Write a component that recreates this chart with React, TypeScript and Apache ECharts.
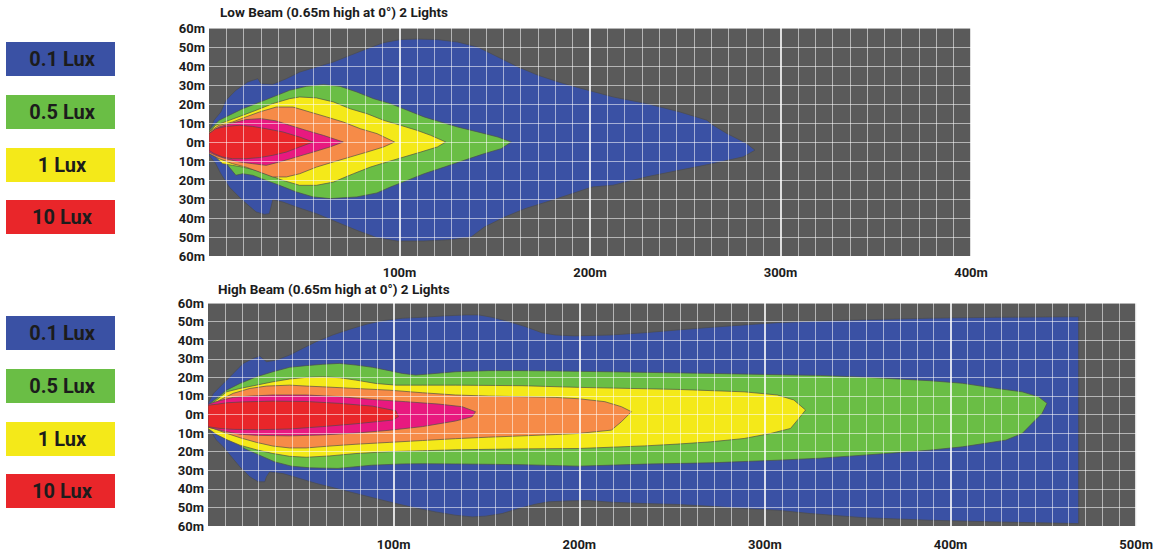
import React, { useEffect, useRef } from "react";
import * as echarts from "echarts";

type P = [number, number];

// ---------- Data (metres: x = distance, y = lateral offset, + = up) ----------
const LOW_TITLE = "Low Beam (0.65m high at 0°) 2 Lights";
const HIGH_TITLE = "High Beam (0.65m high at 0°) 2 Lights";
const LOW_MAX_X = 400;
const HIGH_MAX_X = 500;
const Y_MIN = -60;
const Y_MAX = 60;

const LEGEND_LABELS = ["0.1 Lux", "0.5 Lux", "1 Lux", "10 Lux"];

const LOW_BLUE: P[] = [
  [0, 5.3], [2.6, 11.4], [6.2, 15.8], [8.8, 21.9], [14.1, 27.2], [20.3, 31.6], [25.6, 33.3], [27.3, 30.7],
  [33.5, 30.4], [40.6, 33.3], [47.6, 36.8], [56.4, 39.5], [65.3, 42.1], [74.1, 45.6], [82.9, 49.1],
  [91.7, 52.3], [100.5, 53.9], [109.3, 54.2], [119.9, 53.9], [130.5, 52.6], [141.1, 50], [151.7, 44.7],
  [162.3, 39.5], [172.8, 35.1], [183.4, 31.6], [194, 28.6], [212.2, 23.7], [229.8, 20.2], [247.2, 15.8],
  [261.3, 11.5], [264.7, 8.8], [271.8, 4.5], [282.3, -0.8], [286.6, -4.3], [280.5, -7.8], [264.7, -11.3],
  [247.2, -14.8], [229.8, -18.3], [212.2, -22.7], [201, -23.7], [190.5, -27.2], [179.9, -30.7],
  [165.8, -35.1], [155.2, -39.5], [144.6, -44.7], [137.6, -50], [127, -51.4], [112.9, -52.1], [98.8, -52.1],
  [88.2, -50.4], [77.6, -46.5], [67, -42.1], [56.4, -37.7], [45.9, -34.2], [38.8, -31.6], [33.5, -30.4],
  [31.7, -37.7], [29.1, -38.1], [24.7, -36.8], [17.6, -30.7], [10.6, -23.7], [6.2, -16.7], [3.5, -11.4], [0, -7],
];
const LOW_GREEN: P[] = [
  [0, 6.1], [5.3, 11.4], [12.3, 14.9], [17.6, 17.5], [24.7, 20.2], [33.5, 23.7], [42.3, 27.2], [51.1, 29.3],
  [60, 30.2], [68.8, 29.3], [77.6, 26.3], [86.4, 22.8], [95.2, 20.2], [104.1, 16.7], [112.9, 13.2],
  [121.7, 10.5], [130.5, 7.9], [141.1, 5.3], [151.7, 2.6], [158.7, 0], [153.4, -3.5], [144.6, -6.1],
  [134, -9.6], [123.5, -13.2], [112.9, -16.7], [104.1, -20.2], [95.2, -23.7], [88.2, -26.8], [77.6, -28.9],
  [63.5, -29.8], [54.7, -28.9], [45.9, -26.3], [37, -22.8], [30, -20.2], [22.9, -17.5], [17.6, -16.7],
  [14.1, -17.5], [10.6, -13.2], [7.1, -8.8], [3.5, -6.1], [0, -5.3],
];
const LOW_YELLOW: P[] = [
  [0, 5.3], [3.5, 8.8], [10.6, 11.4], [17.6, 14], [24.7, 16.7], [33.5, 20.2], [42.3, 22.8], [47.6, 23.7],
  [56.4, 23.2], [65.3, 21.1], [74.1, 17.5], [82.9, 14.9], [91.7, 11.4], [100.5, 8.8], [109.3, 6.1],
  [116.4, 3.5], [124.3, 0], [119.9, -2.6], [111.1, -5.3], [102.3, -7.9], [93.5, -10.5], [84.7, -13.2],
  [75.8, -16.7], [65.3, -21.1], [56.4, -22.8], [47.6, -22.8], [38.8, -20.2], [31.7, -17.5], [24.7, -14.9],
  [17.6, -13.2], [12.3, -12.3], [7.1, -11.4], [3.5, -7.9], [0, -6.1],
];
const LOW_ORANGE: P[] = [
  [0, 5.3], [5.3, 8.8], [12.3, 10.5], [19.4, 13.2], [26.5, 15.8], [35.3, 18.4], [44.1, 18.4], [52.9, 15.8],
  [61.7, 13.2], [70.5, 10.5], [79.4, 7], [88.2, 4.4], [97.4, 0], [91.7, -2.6], [82.9, -5.3], [74.1, -7.9],
  [65.3, -10.5], [56.4, -13.2], [47.6, -16.7], [40.6, -18.4], [33.5, -18.4], [26.5, -15.8], [19.4, -13.2],
  [12.3, -11.4], [5.3, -8.8], [0, -6.1],
];
const LOW_PINK: P[] = [
  [0, 4.4], [5.3, 7.9], [12.3, 10], [19.4, 11.8], [27.3, 12.3], [35.3, 11.1], [42.3, 8.8], [51.1, 6.1],
  [60, 3.5], [70.5, 0], [63.5, -2.6], [54.7, -5.3], [45.9, -7.9], [37, -10.5], [30, -12.3], [22.9, -11.4],
  [15.9, -10.5], [8.8, -8.8], [3.5, -7], [0, -5.3],
];
const LOW_RED: P[] = [
  [0, 4.4], [3.5, 7], [8.8, 8.2], [15.9, 8.8], [22.9, 8.2], [30, 7], [38.8, 5.3], [47.6, 2.6], [54.7, 0],
  [47.6, -2.6], [40.6, -5.3], [33.5, -7], [26.5, -8.2], [19.4, -8.8], [12.3, -8.8], [7.1, -7.9], [2.6, -6.1],
  [0, -4.4],
];

const HIGH_BLUE: P[] = [
  [0, 6], [2.9, 11.3], [8.2, 16.7], [13.6, 22.1], [18.9, 27.5], [24.3, 30.2], [27.9, 31.5], [31.5, 28.4],
  [36.8, 29.3], [44, 32], [51.1, 35.6], [58.3, 39.2], [67.2, 42.8], [76.1, 45.8], [85.1, 48.5], [94, 50.5],
  [104.7, 51.8], [115.5, 52.3], [126.2, 53], [138.7, 53.6], [145.8, 53.6], [153, 52.3], [161.9, 50],
  [170.9, 47.3], [179.8, 44], [187, 42.8], [197.7, 42.3], [217.3, 42.8], [235.2, 44], [253.1, 45.5],
  [270.9, 46.9], [288.8, 48.2], [306.7, 49.4], [324.6, 50.2], [355, 51], [388.6, 51.8], [424.3, 52.3],
  [469, 52.6], [469, -58.7], [424.3, -57.8], [388.6, -56.9], [352.8, -55.5], [324.6, -53.3], [306.7, -51.5],
  [288.8, -50.6], [270.9, -49.4], [253.1, -48.4], [235.2, -47.9], [217.3, -47.2], [204.8, -46.3],
  [194.1, -46.5], [183.4, -47], [176.2, -48.3], [167.3, -50.6], [158.4, -53.3], [149.4, -54.7],
  [142.3, -55.1], [133.3, -54.2], [122.6, -52.4], [111.9, -50.3], [101.2, -47.9], [90.4, -45.2],
  [79.7, -42.5], [69, -39.8], [58.3, -37.1], [49.3, -34.4], [40.4, -31.8], [33.2, -30.9], [31.5, -33.5],
  [30.6, -36.2], [27, -36.2], [22.5, -33.5], [17.2, -28.2], [11.8, -21.8], [8.2, -17.4], [4.6, -13.8], [0, -6.6],
];
const HIGH_GREEN: P[] = [
  [0, 5.1], [4.6, 8.7], [10, 13.1], [17.2, 16.7], [26.1, 20.3], [35, 23], [44, 25.4], [52.9, 26.3],
  [61.8, 27], [70.8, 27.5], [79.7, 26.6], [88.6, 25.4], [97.6, 23.6], [104.7, 22.1], [111.9, 21.2],
  [119, 21.8], [133.3, 23], [151.2, 23.6], [169.1, 23.6], [187, 23.4], [215.6, 23], [270.9, 22.1],
  [330, 21], [355, 20], [388.6, 18.2], [406.4, 16.8], [424.3, 14.1], [438.6, 12.2], [447.5, 9.5], [452, 6],
  [449.3, 0.6], [445.7, -3], [438.6, -10.2], [429.7, -13.8], [406.4, -17.4], [388.6, -19.2], [370.7, -20.6],
  [352.8, -21.9], [330, -23.5], [306.7, -24.6], [270.9, -26], [235.2, -26.7], [199.5, -27.8], [169.1, -27],
  [133.3, -26.6], [115.5, -26.5], [104.7, -26.6], [88, -27.3], [70, -29], [55, -28.7], [45, -27.8],
  [36, -25.5], [28, -22], [20, -18.5], [15.4, -15.5], [10, -13], [4.6, -10.5], [0, -6.8],
];
const HIGH_YELLOW: P[] = [
  [0, 4.2], [4.6, 7.8], [10, 12.2], [17.2, 14], [26.1, 15.8], [35, 17.6], [44, 19.1], [52.9, 20],
  [61.8, 20.3], [70.8, 19.8], [79.7, 18.5], [90.4, 16.7], [101.2, 15.8], [115.5, 15.8], [133.3, 15.8],
  [169.1, 15.5], [199.5, 14.6], [253.1, 13.5], [288.8, 12.2], [306.7, 10.5], [315.6, 7.8], [321.9, 2.4],
  [318.3, -2.1], [313.8, -7.5], [303.1, -10.2], [288.8, -12.9], [270.9, -14.7], [253.1, -15.9],
  [235.2, -16.9], [199.5, -18.3], [169.1, -18.5], [133.3, -19], [115.5, -19.5], [97.6, -20], [79.7, -21],
  [65.4, -22.3], [52.9, -23], [44, -22.5], [35, -21], [26.1, -19], [17.2, -16.5], [10, -13.5], [4.6, -10.8],
  [0, -7.5],
];
const HIGH_ORANGE: P[] = [
  [0, 3.3], [6.4, 7.8], [13.6, 11.4], [22.5, 14], [31.5, 15.3], [44, 15.8], [52.9, 15.3], [61.8, 14.9],
  [79.7, 14], [97.6, 13.1], [115.5, 11.7], [133.3, 10.5], [151.2, 9.9], [169.1, 9.6], [187, 9.2],
  [199.5, 8.5], [213.8, 6.9], [222.7, 4.2], [228.1, 1.5], [222.7, -3.9], [217.3, -8.4], [208.4, -9.3],
  [199.5, -10.2], [187, -10.8], [169.1, -11.5], [151.2, -12.2], [133.3, -13], [115.5, -14], [97.6, -15],
  [79.7, -16], [65.4, -17], [52.9, -18], [44, -18], [35, -17], [26.1, -15], [17.2, -12.5], [8.2, -9.5],
  [2.9, -7.5], [0, -6.8],
];
const HIGH_PINK: P[] = [
  [0, 5.5], [6.4, 7.5], [13.6, 9.2], [22.5, 9.9], [35, 10.5], [52.9, 10.5], [70.8, 9.6], [88.6, 8.1],
  [106.5, 6.9], [124.4, 5.6], [136.9, 4.2], [144.1, 1.5], [142.3, -1.2], [133.3, -3.5], [115.5, -6.5],
  [97.6, -8.5], [79.7, -10], [61.8, -11], [44, -11.5], [26.1, -11.2], [17.2, -10.6], [10, -9.3], [4.6, -8],
  [0, -6.8],
];
const HIGH_RED: P[] = [
  [0, 5], [4.6, 5.5], [10, 6.3], [18.9, 6.8], [35, 7.2], [52.9, 7], [70.8, 6], [88.6, 4.5], [101.2, 2],
  [102.6, -1.2], [99.4, -3], [79.7, -5], [61.8, -6.5], [44, -7.8], [26.1, -8.2], [13.6, -8], [6.4, -7.5],
  [0, -6.6],
];

// ---------- Styles ----------
const FONT = "Roboto, 'Liberation Sans', sans-serif";
const TEXT_COLOR = "#1c1c1c";
const BG = "#5a5a5a";
const FILL_BLUE = "#3a51a4";
const FILL_GREEN = "#6abe45";
const FILL_YELLOW = "#f4e919";
const FILL_ORANGE = "#f68b48";
const FILL_PINK = "#e8197f";
const FILL_RED = "#e9262a";
const LEGEND_COLORS = [FILL_BLUE, FILL_GREEN, FILL_YELLOW, FILL_RED];

function contour(pts: P[], color: string, idx: number) {
  return {
    type: "custom",
    xAxisIndex: idx,
    yAxisIndex: idx,
    data: pts,
    clip: true,
    silent: true,
    renderItem: (params: any, api: any) => {
      if (params.dataIndex !== 0) return null;
      const points = pts.map((p) => api.coord(p));
      return {
        type: "polygon",
        shape: { points },
        style: { fill: color, stroke: "rgba(75,75,75,0.85)", lineWidth: 0.8 },
      };
    },
  };
}

function xAxis(idx: number, max: number, labelMargin: number) {
  return {
    type: "value",
    gridIndex: idx,
    min: 0,
    max,
    interval: 100,
    z: 10,
    axisLine: { show: false },
    axisTick: { show: false },
    axisLabel: {
      margin: labelMargin,
      fontFamily: FONT,
      fontWeight: "bold",
      fontSize: 13,
      color: TEXT_COLOR,
      formatter: (v: number) => (v === 0 ? "" : v + "m"),
    },
    splitLine: { show: true, showMinLine: false, lineStyle: { color: "#ffffff", width: 1.6 } },
    minorTick: { show: false, splitNumber: 11 },
    minorSplitLine: { show: true, lineStyle: { color: "rgba(255,255,255,0.55)", width: 1 } },
  };
}

function yAxis(idx: number) {
  return {
    type: "value",
    gridIndex: idx,
    min: Y_MIN,
    max: Y_MAX,
    interval: 10,
    z: 10,
    axisLine: { show: false },
    axisTick: { show: false },
    axisLabel: {
      margin: 4,
      fontFamily: FONT,
      fontWeight: "bold",
      fontSize: 13,
      color: TEXT_COLOR,
      formatter: (v: number) => Math.abs(v) + "m",
    },
    splitLine: { show: true, lineStyle: { color: "rgba(255,255,255,0.55)", width: 1 } },
  };
}

function legendGraphics(top0: number) {
  const out: any[] = [];
  const gaps = [0, 53, 106, 158];
  LEGEND_LABELS.forEach((label, i) => {
    const y = top0 + gaps[i];
    out.push({
      type: "rect",
      shape: { x: 6, y, width: 109, height: 34 },
      style: { fill: LEGEND_COLORS[i] },
      z: 5,
    });
    out.push({
      type: "text",
      x: 62,
      y: y + 17,
      z: 6,
      style: {
        text: label,
        fill: TEXT_COLOR,
        fontFamily: FONT,
        fontWeight: "bold",
        fontSize: 20,
        align: "center",
        verticalAlign: "middle",
      },
    });
  });
  return out;
}

export default function App() {
  const ref = useRef<HTMLDivElement>(null);
  useEffect(() => {
    if (!ref.current) return;
    const chart = echarts.init(ref.current, undefined, { renderer: "svg" });
    chart.setOption({
      animation: false,
      backgroundColor: "#ffffff",
      title: [
        {
          text: LOW_TITLE,
          left: 220,
          top: 5,
          padding: 0,
          textStyle: { fontFamily: FONT, fontWeight: "bold", fontSize: 13.5, color: TEXT_COLOR },
        },
        {
          text: HIGH_TITLE,
          left: 218,
          top: 282,
          padding: 0,
          textStyle: { fontFamily: FONT, fontWeight: "bold", fontSize: 13.5, color: TEXT_COLOR },
        },
      ],
      grid: [
        { left: 209, top: 28, width: 762, height: 228, show: true, backgroundColor: BG, borderWidth: 0 },
        { left: 208, top: 303, width: 932, height: 223, show: true, backgroundColor: BG, borderWidth: 0 },
      ],
      xAxis: [xAxis(0, LOW_MAX_X, 10), xAxis(1, HIGH_MAX_X, 12)],
      yAxis: [yAxis(0), yAxis(1)],
      series: [
        contour(LOW_BLUE, FILL_BLUE, 0),
        contour(LOW_GREEN, FILL_GREEN, 0),
        contour(LOW_YELLOW, FILL_YELLOW, 0),
        contour(LOW_ORANGE, FILL_ORANGE, 0),
        contour(LOW_PINK, FILL_PINK, 0),
        contour(LOW_RED, FILL_RED, 0),
        contour(HIGH_BLUE, FILL_BLUE, 1),
        contour(HIGH_GREEN, FILL_GREEN, 1),
        contour(HIGH_YELLOW, FILL_YELLOW, 1),
        contour(HIGH_ORANGE, FILL_ORANGE, 1),
        contour(HIGH_PINK, FILL_PINK, 1),
        contour(HIGH_RED, FILL_RED, 1),
      ],
      graphic: [...legendGraphics(42), ...legendGraphics(316)],
    });
    return () => chart.dispose();
  }, []);
  return (
    <div
      ref={ref}
      style={{ position: "fixed", left: 0, top: 0, width: 1156, height: 554 }}
    />
  );
}
